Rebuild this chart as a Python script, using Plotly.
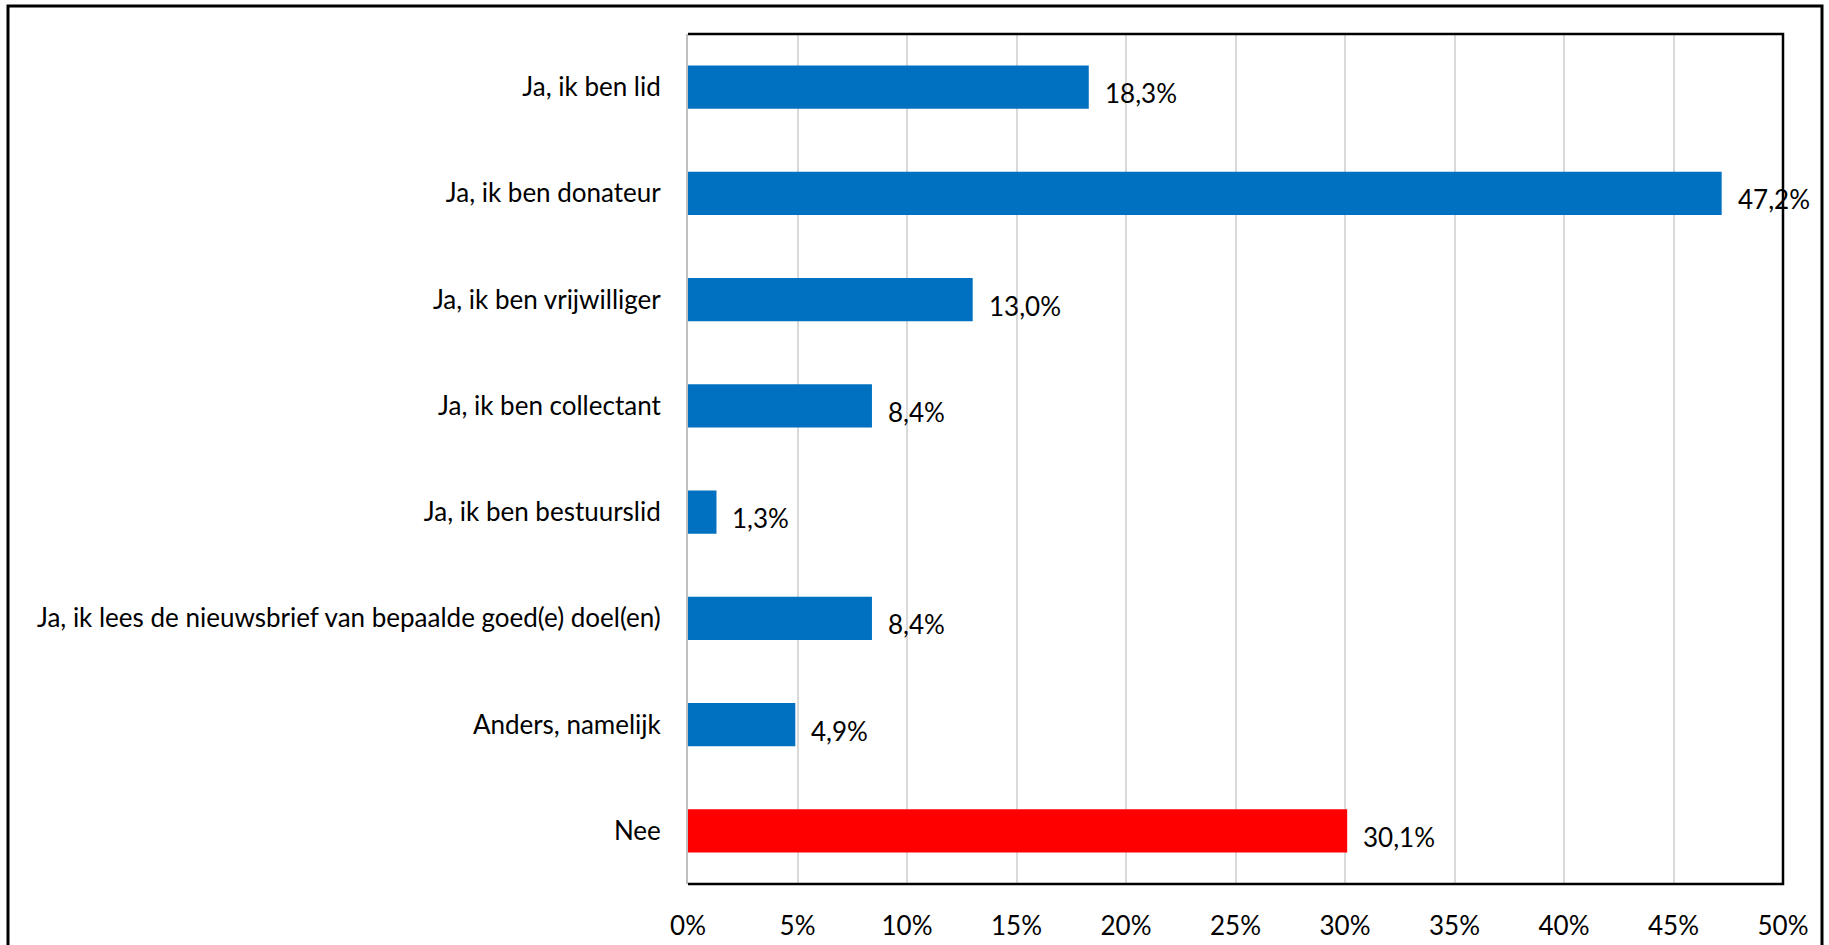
import plotly.graph_objects as go

categories = [
    "Ja, ik ben lid",
    "Ja, ik ben donateur",
    "Ja, ik ben vrijwilliger",
    "Ja, ik ben collectant",
    "Ja, ik ben bestuurslid",
    "Ja, ik lees de nieuwsbrief van bepaalde goed(e) doel(en)",
    "Anders, namelijk",
    "Nee",
]
values = [18.3, 47.2, 13.0, 8.4, 1.3, 8.4, 4.9, 30.1]
bar_colors = ["#0070C0"] * 7 + ["#FF0000"]

W, H = 1829, 945
L, R, T, B = 688, 46, 34, 61
FONT = "Lato"
FS = 26

fig = go.Figure(
    go.Bar(
        x=values,
        y=categories,
        orientation="h",
        marker=dict(color=bar_colors, line=dict(width=0)),
        hoverinfo="skip",
    )
)

# value labels to the right of each bar, Dutch decimal comma
for c, v in zip(categories, values):
    fig.add_annotation(
        x=v, y=c, xref="x", yref="y",
        text=f"{v:.1f}%".replace(".", ","),
        showarrow=False, xanchor="left", xshift=14, yshift=-6,
        font=dict(family=FONT, size=FS, color="#000000"),
    )

pw = W - L - R
ph = H - T - B
# outer chart frame
fig.add_shape(
    type="rect", xref="paper", yref="paper",
    x0=(8 - L) / pw, x1=(1822 - L) / pw,
    y0=-(H + 10 - T - ph) / ph, y1=1 + (T - 6) / ph,
    line=dict(color="#000000", width=3), layer="below",
)
# plot area frame (top, right, bottom)
fig.add_shape(
    type="path", xref="paper", yref="paper",
    path="M 0,1 L 1,1 L 1,0 L 0,0",
    line=dict(color="#000000", width=2.5),
)

fig.update_layout(
    width=W, height=H,
    margin=dict(l=L, r=R, t=T, b=B, autoexpand=False),
    paper_bgcolor="#FFFFFF", plot_bgcolor="#FFFFFF",
    bargap=0.595,
    showlegend=False,
    font=dict(family=FONT, size=FS, color="#000000"),
    xaxis=dict(
        range=[0, 50], dtick=5, ticksuffix="%",
        showgrid=True, gridcolor="#D9D9D9", gridwidth=2,
        zeroline=False, showline=False, ticks="",
        ticklabelstandoff=24, automargin=False,
        tickfont=dict(family=FONT, size=FS, color="#000000"),
        fixedrange=True,
    ),
    yaxis=dict(
        autorange="reversed", showgrid=False, zeroline=False,
        showline=True, linecolor="#BFBFBF", linewidth=2, ticks="",
        ticklabelstandoff=20, automargin=False,
        tickfont=dict(family=FONT, size=FS, color="#000000"),
        fixedrange=True,
    ),
)

fig.write_html("out.html")
